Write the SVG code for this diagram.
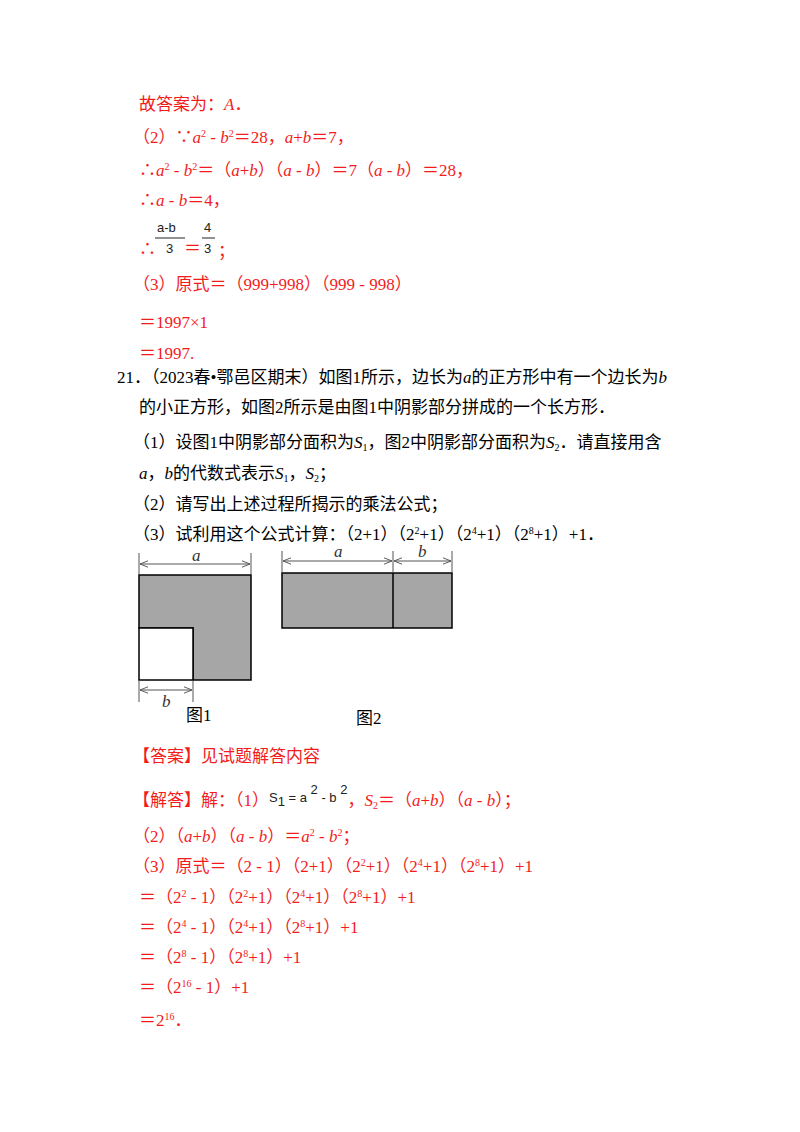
<svg xmlns="http://www.w3.org/2000/svg" width="800" height="1132" viewBox="0 0 800 1132">
<style>
text{font-family:"Liberation Serif","Noto Sans CJK SC",serif;font-size:17px}
.r{fill:#f21c1c}
.k{fill:#000}
.i{font-style:italic}
.s{font-family:"Liberation Sans","Noto Sans CJK SC",sans-serif;font-size:13px;fill:#222}
.ln{stroke:#000;stroke-width:1.5;fill:none}
.dim{stroke:#555;stroke-width:1;fill:none}
.g{fill:#a6a6a6;stroke:#000;stroke-width:1.5}
</style>
<defs>
<marker id="ah" viewBox="0 0 10 10" refX="10" refY="5" markerWidth="8" markerHeight="8" orient="auto-start-reverse"><path d="M0,1 L10,5 L0,9" fill="none" stroke="#555" stroke-width="1.2"/></marker>
</defs>
<rect width="800" height="1132" fill="#fff"/>
<g class="r">
<text x="139" y="110">故答案为：<tspan class="i">A</tspan>．</text>
<text x="133" y="143">（2）∵<tspan class="i">a</tspan><tspan font-size="10" dy="-6">2</tspan><tspan dy="6"> - </tspan><tspan class="i">b</tspan><tspan font-size="10" dy="-6">2</tspan><tspan dy="6">＝28，</tspan><tspan class="i">a</tspan>+<tspan class="i">b</tspan>＝7，</text>
<text x="139" y="176">∴<tspan class="i">a</tspan><tspan font-size="10" dy="-6">2</tspan><tspan dy="6"> - </tspan><tspan class="i">b</tspan><tspan font-size="10" dy="-6">2</tspan><tspan dy="6">＝（</tspan><tspan class="i">a</tspan>+<tspan class="i">b</tspan>）（<tspan class="i">a</tspan> - <tspan class="i">b</tspan>）＝7（<tspan class="i">a</tspan> - <tspan class="i">b</tspan>）＝28，</text>
<text x="139" y="206">∴<tspan class="i">a</tspan> - <tspan class="i">b</tspan>＝4，</text>
<text x="139" y="255">∴</text>
<text x="184" y="254">＝</text>
<text x="218" y="257">；</text>
<text x="133" y="290">（3）原式＝（999+998）（999 - 998）</text>
<text x="139" y="328">＝1997×1</text>
<text x="139" y="359">＝1997.</text>
</g>
<g class="k">
<text class="s" x="157" y="232">a-b</text>
<line x1="155" y1="238" x2="185" y2="238" stroke="#222" stroke-width="1"/>
<text class="s" x="166" y="253">3</text>
<text class="s" x="204" y="232">4</text>
<line x1="202" y1="238" x2="215" y2="238" stroke="#222" stroke-width="1"/>
<text class="s" x="204" y="253">3</text>
<text x="117" y="383">21．（2023春•鄂邑区期末）如图1所示，边长为<tspan class="i">a</tspan>的正方形中有一个边长为<tspan class="i">b</tspan></text>
<text x="139" y="413">的小正方形，如图2所示是由图1中阴影部分拼成的一个长方形．</text>
<text x="133" y="448">（1）设图1中阴影部分面积为<tspan class="i">S</tspan><tspan font-size="10" dy="3">1</tspan><tspan dy="-3">，图2中阴影部分面积为</tspan><tspan class="i">S</tspan><tspan font-size="10" dy="3">2</tspan><tspan dy="-3">．请直接用含</tspan></text>
<text x="139" y="479"><tspan class="i">a</tspan>，<tspan class="i">b</tspan>的代数式表示<tspan class="i">S</tspan><tspan font-size="10" dy="3">1</tspan><tspan dy="-3">，</tspan><tspan class="i">S</tspan><tspan font-size="10" dy="3">2</tspan><tspan dy="-3">；</tspan></text>
<text x="133" y="510">（2）请写出上述过程所揭示的乘法公式；</text>
<text x="133" y="540">（3）试利用这个公式计算：（2+1）（2<tspan font-size="10" dy="-6">2</tspan><tspan dy="6">+1）（2</tspan><tspan font-size="10" dy="-6">4</tspan><tspan dy="6">+1）（2</tspan><tspan font-size="10" dy="-6">8</tspan><tspan dy="6">+1）+1．</tspan></text>
</g>
<g id="fig1">
<path class="g" d="M139,575 H251 V680 H193 V628 H139 Z"/>
<rect x="139" y="628" width="54" height="52" fill="#fff" stroke="#000" stroke-width="1.5"/>
<path class="dim" d="M139,553 V575 M251,553 V575 M139,680 V702 M193,680 V702"/>
<line class="dim" x1="140" y1="564" x2="250" y2="564" marker-start="url(#ah)" marker-end="url(#ah)"/>
<line class="dim" x1="140" y1="690" x2="192" y2="690" marker-start="url(#ah)" marker-end="url(#ah)"/>
<text x="192" y="561" class="i" font-size="14" fill="#333">a</text>
<text x="162" y="707" class="i" font-size="14" fill="#333">b</text>
<text x="186" y="721" font-size="15">图1</text>
</g>
<g id="fig2">
<rect class="g" x="282" y="573" width="170" height="55"/>
<line x1="393" y1="573" x2="393" y2="628" stroke="#000" stroke-width="1.5"/>
<path class="dim" d="M282,551 V573 M393,551 V573 M452,551 V573"/>
<line class="dim" x1="283" y1="561" x2="392" y2="561" marker-start="url(#ah)" marker-end="url(#ah)"/>
<line class="dim" x1="394" y1="561" x2="451" y2="561" marker-start="url(#ah)" marker-end="url(#ah)"/>
<text x="334" y="557" class="i" font-size="14" fill="#333">a</text>
<text x="418" y="557" class="i" font-size="14" fill="#333">b</text>
<text x="356" y="724" font-size="15">图2</text>
</g>
<g class="r">
<text x="133" y="762">【答案】见试题解答内容</text>
<text x="133" y="806">【解答】解：（1）<tspan class="s" font-size="15" dy="-4">S</tspan><tspan class="s" font-size="11" dy="4">1</tspan><tspan class="s" font-size="12" dy="-4"> = a </tspan><tspan class="s" dy="-8">2</tspan><tspan class="s" dy="8"> - b </tspan><tspan class="s" dy="-8">2</tspan><tspan dy="12">，</tspan><tspan class="i">S</tspan><tspan font-size="10" dy="3">2</tspan><tspan dy="-3">＝（</tspan><tspan class="i">a</tspan>+<tspan class="i">b</tspan>）（<tspan class="i">a</tspan> - <tspan class="i">b</tspan>）；</text>
<text x="133" y="842">（2）（<tspan class="i">a</tspan>+<tspan class="i">b</tspan>）（<tspan class="i">a</tspan> - <tspan class="i">b</tspan>）＝<tspan class="i">a</tspan><tspan font-size="10" dy="-6">2</tspan><tspan dy="6"> - </tspan><tspan class="i">b</tspan><tspan font-size="10" dy="-6">2</tspan><tspan dy="6">；</tspan></text>
<text x="133" y="872">（3）原式＝（2 - 1）（2+1）（2<tspan font-size="10" dy="-6">2</tspan><tspan dy="6">+1）（2</tspan><tspan font-size="10" dy="-6">4</tspan><tspan dy="6">+1）（2</tspan><tspan font-size="10" dy="-6">8</tspan><tspan dy="6">+1）+1</tspan></text>
<text x="139" y="903">＝（2<tspan font-size="10" dy="-6">2</tspan><tspan dy="6"> - 1）（2</tspan><tspan font-size="10" dy="-6">2</tspan><tspan dy="6">+1）（2</tspan><tspan font-size="10" dy="-6">4</tspan><tspan dy="6">+1）（2</tspan><tspan font-size="10" dy="-6">8</tspan><tspan dy="6">+1）+1</tspan></text>
<text x="139" y="933">＝（2<tspan font-size="10" dy="-6">4</tspan><tspan dy="6"> - 1）（2</tspan><tspan font-size="10" dy="-6">4</tspan><tspan dy="6">+1）（2</tspan><tspan font-size="10" dy="-6">8</tspan><tspan dy="6">+1）+1</tspan></text>
<text x="139" y="963">＝（2<tspan font-size="10" dy="-6">8</tspan><tspan dy="6"> - 1）（2</tspan><tspan font-size="10" dy="-6">8</tspan><tspan dy="6">+1）+1</tspan></text>
<text x="139" y="993">＝（2<tspan font-size="10" dy="-6">16</tspan><tspan dy="6"> - 1）+1</tspan></text>
<text x="139" y="1026">＝2<tspan font-size="10" dy="-6">16</tspan><tspan dy="6">．</tspan></text>
</g>
</svg>
